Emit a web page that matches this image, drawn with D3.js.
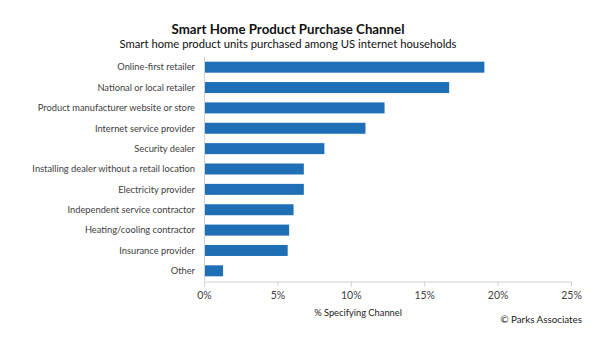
<!DOCTYPE html>
<html>
<head>
<meta charset="utf-8">
<script src="https://cdn.jsdelivr.net/npm/d3@7"></script>
<style>
  html, body { margin: 0; padding: 0; background: #fff; }
  svg { display: block; font-family: Lato, "Open Sans", sans-serif; }
</style>
</head>
<body>
<svg id="chart" width="614" height="345"></svg>
<script>
// Purchase channels, top to bottom
const channels = [
  "Online-first retailer",
  "National or local retailer",
  "Product manufacturer website or store",
  "Internet service provider",
  "Security dealer",
  "Installing dealer without a retail location",
  "Electricity provider",
  "Independent service contractor",
  "Heating/cooling contractor",
  "Insurance provider",
  "Other"
];
// Share of smart home product units (%)
const shares = [19.1, 16.7, 12.3, 11.0, 8.2, 6.8, 6.8, 6.1, 5.8, 5.7, 1.3];
const xTicks = [0, 5, 10, 15, 20, 25];

const svg = d3.select("#chart");
const plotLeft = 204, plotRight = 571, plotTop = 57, plotBottom = 281;

const x = d3.scaleLinear().domain([0, 25]).range([plotLeft, plotRight]);
const y = d3.scaleBand().domain(channels).range([plotTop, plotBottom]).paddingInner(0.46).paddingOuter(0.23);

// Titles
svg.append("text").attr("x", 288).attr("y", 34).attr("text-anchor", "middle")
  .attr("font-size", 14).attr("font-weight", "bold").attr("fill", "#111")
  .attr("textLength", 233).attr("lengthAdjust", "spacingAndGlyphs")
  .text("Smart Home Product Purchase Channel");
svg.append("text").attr("x", 288).attr("y", 48).attr("text-anchor", "middle")
  .attr("font-size", 11.8).attr("fill", "#111")
  .attr("textLength", 337).attr("lengthAdjust", "spacingAndGlyphs")
  .text("Smart home product units purchased among US internet households");

// Bars
svg.append("g").selectAll("rect").data(channels).join("rect")
  .attr("x", x(0))
  .attr("y", d => y(d))
  .attr("width", (d, i) => x(shares[i]) - x(0))
  .attr("height", y.bandwidth())
  .attr("fill", "#1f6fb6");

// Category labels
svg.append("g").selectAll("text").data(channels).join("text")
  .attr("x", 195)
  .attr("y", d => y(d) + y.bandwidth() / 2)
  .attr("dy", "0.35em")
  .attr("text-anchor", "end")
  .attr("font-size", 9.3)
  .attr("fill", "#404040")
  .text(d => d);

// Vertical baseline
svg.append("line").attr("x1", plotLeft + 0.5).attr("x2", plotLeft + 0.5)
  .attr("y1", plotTop).attr("y2", plotBottom).attr("stroke", "#d0d0d0");

// X axis
const xAxis = d3.axisBottom(x).tickValues(xTicks).tickFormat(d => d + "%").tickSize(5).tickPadding(5);
const gx = svg.append("g").attr("transform", `translate(0,${plotBottom + 0.5})`).call(xAxis);
gx.select(".domain").attr("stroke", "#d0d0d0");
gx.selectAll(".tick line").attr("stroke", "#d0d0d0");
gx.selectAll(".tick text").attr("font-size", 10.5).attr("fill", "#404040")
  .attr("font-family", "Lato, sans-serif");

svg.append("text").attr("x", 358).attr("y", 316).attr("text-anchor", "middle")
  .attr("font-size", 9.3).attr("fill", "#222").text("% Specifying Channel");
svg.append("text").attr("x", 582).attr("y", 323).attr("text-anchor", "end")
  .attr("font-size", 9.8).attr("fill", "#222").text("© Parks Associates");
</script>
</body>
</html>
